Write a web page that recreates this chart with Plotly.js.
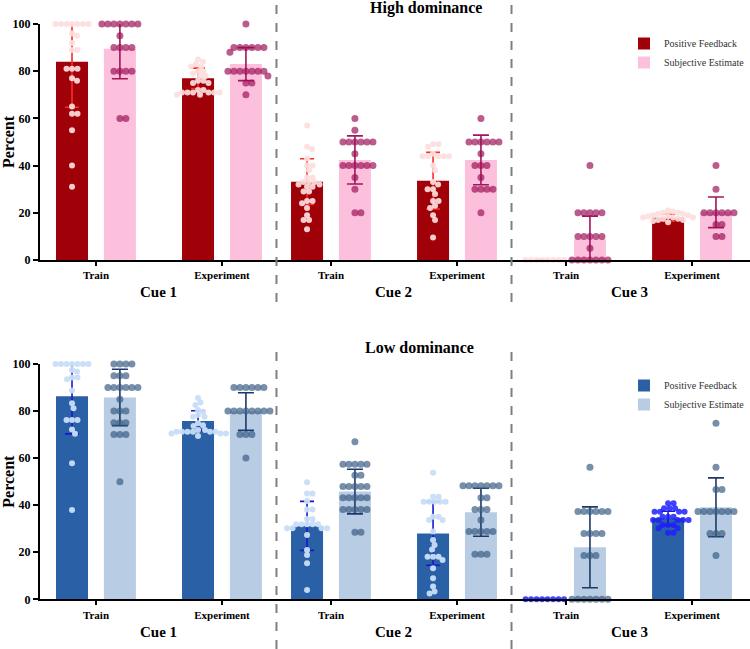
<!DOCTYPE html>
<html>
<head>
<meta charset="utf-8">
<script src="https://cdn.plot.ly/plotly-3.0.1.min.js"></script>
<style>html,body{margin:0;padding:0;background:#fff;}#chart{width:750px;height:649px;}</style>
</head>
<body>
<div id="chart"></div>
<script>
// ---------------- DATA ----------------
const cueLabels = ['Cue 1', 'Cue 2', 'Cue 3'];
const tickLabels = ['Train', 'Experiment', 'Train', 'Experiment', 'Train', 'Experiment'];
const seriesNames = ['Positive Feedback', 'Subjective Estimate'];
const panelTitles = ['High dominance', 'Low dominance'];

// High dominance: bar means and SD (order: C1 Train, C1 Exp, C2 Train, C2 Exp, C3 Train, C3 Exp)
const highPosMean = [84, 77, 33.2, 33.6, 0, 17.9];
const highPosSD   = [19.3, 4.3, 9.7, 12, 0, 1.5];
const highSubMean = [89.5, 83, 42.4, 42.4, 8.8, 20.2];
const highSubSD   = [12.7, 7, 10.2, 10.5, 9.8, 6.5];

const highPosPoints = [
  [100,100,100,100,100,100,100,96,95,92,89,89,81,81,81,77,76,65,62,62,55,40,31],
  [85,84,83,82,82,80,80,79,78,78,76,76,75,75,72,72,71,71,71,71,71,71,70,70],
  [57,48,47,43,40,40,38,35,35,33,33,33,32,32,31,31,29,29,25,25,24,22,19,17,17,13],
  [49,49,48,45,44,44,44,44,44,40,38,33,32,30,30,28,25,25,23,22,19,17,9.5],
  [0,0,0,0,0,0,0,0],
  [21,20.5,20,20,19.5,19.5,19,19,18.5,18.5,18,18,18,17.5,17.5,17,17,16.5,16]
];
const highSubPoints = [
  [100,100,100,100,100,100,100,95,90,90,90,90,80,80,80,80,60,60],
  [100,90,90,90,90,90,90,88,80,80,80,80,80,80,80,78,75,75,70],
  [60,55,50,50,50,50,50,50,45,40,40,40,40,40,40,35,30,20,20],
  [60,50,50,50,50,50,50,45,40,40,40,35,30,30,30,30,20],
  [40,20,20,20,20,20,10,10,10,10,10,5,0,0,0,0,0,0,0],
  [40,30,20,20,20,20,20,20,15,15,10,10]
];

// Low dominance
const lowPosMean = [86.3, 75.8, 31.2, 28, 0, 34.4];
const lowPosSD   = [16, 4.3, 10.4, 13.5, 0, 3];
const lowSubMean = [85.8, 79.8, 45.8, 37, 22.1, 39.1];
const lowSubSD   = [12, 8, 9.5, 10.2, 17.2, 12.5];

const lowPosPoints = [
  [100,100,100,100,100,100,100,97.5,96.7,94.3,94.3,93.5,88.7,83.3,81.2,76.2,76.2,76.2,72.2,70.4,57.8,38],
  [85.5,83.6,82.6,80.5,79.7,78.3,77.6,77.6,74.8,74,73.7,72,72,71.2,71.2,71.2,71.2,71.2,71.2,70.5,70.5,70.5,69.4],
  [49.7,45,45,41.8,38.2,38.2,34.1,34.1,31.9,31.9,31.9,31.9,31.9,30.2,30.2,30.2,30.2,27.3,21,18.8,15.3,4],
  [53.8,43.6,43.6,41.5,41.5,41.5,41.5,41.5,35.1,35.1,33.7,33.7,28.8,25.2,23.1,21.2,18.1,18.1,18.1,16.7,13.2,8.9,5.4,3.3,2.5],
  [0,0,0,0,0,0,0,0],
  [40.8,40.8,38.7,38.7,38.7,37.2,37.2,37.2,37.2,35.1,35.1,35.1,33.7,33.7,33.7,33.7,33.7,31.6,31.6,31.6,30.2,30.2,28.3,28.3]
];
const lowSubPoints = [
  [100,100,100,100,95,95,95,90,90,90,90,90,90,85,80,80,80,75,75,75,70,70,70,50],
  [90,90,90,90,90,90,80,80,80,80,80,80,80,80,70,70,70,60],
  [67,57.4,57.4,57.4,57.4,57.4,52.7,52.7,47.9,47.9,47.9,47.9,47.9,43.2,43.2,43.2,43.2,43.2,38.2,38.2,38.2,38.2,38.2,28.5,28.5],
  [48.3,48.3,48.3,48.3,48.3,48.3,48.3,43.2,43.2,38.2,38.2,38.2,33.7,28.8,28.8,28.8,28.8,28.8,19.1,19.1,19.1],
  [56.1,37.3,37.3,37.3,37.3,37.3,37.3,28,28,28,28,18.6,18.6,18.6,0,0,0,0,0,0,0],
  [74.8,56.1,46.7,46.7,37.3,37.3,37.3,37.3,37.3,37.3,37.3,28,28,28,18.6]
];

// ---------------- LAYOUT CONSTANTS ----------------
const W = 750, H = 649;
const cueStep = 1.865;            // distance between cue groups (x units)
const barOffset = 0.19;           // half distance between paired bars
const barWidth = 0.254;
const xRange = [-0.444, 5.19];
const plotLeft = 40;
const topDomainPx = [24, 260];    // y pixel of 100 and 0
const botDomainPx = [364, 599.3];
const PX_PER_X = (W - plotLeft) / (xRange[1] - xRange[0]);
const PX_PER_Y = (topDomainPx[1] - topDomainPx[0]) / 100;

const groupX = tickLabels.map((_, i) => Math.floor(i / 2) * cueStep + (i % 2));

function swarm(vals, center, diam) {
  const placed = [];
  const xs = [];
  const D = diam * 0.85;
  vals.forEach(v => {
    const yp = v * PX_PER_Y;
    let off = 0;
    for (let k = 0; k < 2000; k++) {
      const cand = (k % 2 === 1 ? 1 : -1) * Math.ceil(k / 2) * 0.5;
      let ok = true;
      for (const p of placed) {
        const dx = cand - p[0], dy = yp - p[1];
        if (dx * dx + dy * dy < D * D) { ok = false; break; }
      }
      if (ok) { off = cand; break; }
    }
    placed.push([off, yp]);
    xs.push(center + off / PX_PER_X);
  });
  return xs;
}

const FONT = 'Liberation Serif';

function panelTraces(pos, posSD, sub, subSD, posPts, subPts, ax, st, legendId) {
  const xa = 'x' + ax, ya = 'y' + ax;
  const traces = [];
  traces.push({
    type: 'bar', x: groupX.map(g => g - barOffset), y: pos, width: barWidth,
    name: seriesNames[0], xaxis: xa, yaxis: ya, legend: legendId,
    marker: {color: st.posBar, line: {width: 0}},
    error_y: {type: 'data', array: posSD, visible: true, color: st.posErr, thickness: 1.6, width: 7},
    hoverinfo: 'y'
  });
  traces.push({
    type: 'bar', x: groupX.map(g => g + barOffset), y: sub, width: barWidth,
    name: seriesNames[1], xaxis: xa, yaxis: ya, legend: legendId,
    marker: {color: st.subBar, line: {width: 0}},
    error_y: {type: 'data', array: subSD, visible: true, color: st.subErr, thickness: 1.6, width: 8},
    hoverinfo: 'y'
  });
  let px = [], py = [], pc = [];
  posPts.forEach((arr, i) => {
    px = px.concat(swarm(arr, groupX[i] - barOffset, st.posSize));
    py = py.concat(arr);
    pc = pc.concat(arr.map(() => st.posDot(i)));
  });
  traces.push({
    type: 'scatter', mode: 'markers', x: px, y: py, xaxis: xa, yaxis: ya,
    showlegend: false, cliponaxis: false,
    marker: {color: pc, size: st.posSize, line: {width: 0}}
  });
  let sx = [], sy = [];
  subPts.forEach((arr, i) => {
    sx = sx.concat(swarm(arr, groupX[i] + barOffset, st.subSize));
    sy = sy.concat(arr);
  });
  traces.push({
    type: 'scatter', mode: 'markers', x: sx, y: sy, xaxis: xa, yaxis: ya,
    showlegend: false, cliponaxis: false,
    marker: {color: st.subDot, size: st.subSize, line: {width: 0}}
  });
  return traces;
}

const highStyle = {
  posBar: '#a00008', subBar: '#fcc0dc', posErr: '#ff2a2a', subErr: '#a3155c',
  posDot: () => 'rgba(253,222,222,0.92)', subDot: 'rgba(155,15,85,0.68)', posSize: 6, subSize: 7
};
const lowStyle = {
  posBar: '#2a60a6', subBar: '#b8cce4', posErr: '#1818d0', subErr: '#1c3a68',
  posDot: i => (i >= 4 ? 'rgba(30,30,255,0.85)' : 'rgba(200,222,248,0.95)'),
  subDot: 'rgba(55,90,130,0.68)', posSize: 6, subSize: 7
};

const traces = [].concat(
  panelTraces(highPosMean, highPosSD, highSubMean, highSubSD, highPosPoints, highSubPoints, '', highStyle, 'legend'),
  panelTraces(lowPosMean, lowPosSD, lowSubMean, lowSubSD, lowPosPoints, lowSubPoints, '2', lowStyle, 'legend2')
);

function xaxisDef(anchor) {
  return {
    domain: [0, 1], range: xRange, anchor: anchor,
    showline: true, linewidth: 2, linecolor: '#000', mirror: false,
    tickmode: 'array', tickvals: groupX, ticktext: tickLabels,
    ticks: 'outside', ticklen: 4, tickwidth: 2, tickcolor: '#000',
    tickfont: {family: FONT, size: 11, color: '#000', weight: 'bold'},
    showgrid: false, zeroline: false, fixedrange: true, automargin: false
  };
}
function yaxisDef(domPx, anchor) {
  return {
    domain: [1 - domPx[1] / H, 1 - domPx[0] / H], range: [0, 100], anchor: anchor,
    showline: true, linewidth: 2, linecolor: '#000',
    tickmode: 'array', tickvals: [0, 20, 40, 60, 80, 100],
    ticks: 'outside', ticklen: 5, tickwidth: 2, tickcolor: '#000',
    tickfont: {family: FONT, size: 12, color: '#000', weight: 'bold'},
    title: {text: 'Percent', font: {family: FONT, size: 16, color: '#000', weight: 'bold'}, standoff: 1},
    showgrid: false, zeroline: false, fixedrange: true, automargin: false
  };
}

const annotations = [];
cueLabels.forEach((c, i) => {
  [[0.550, 'x'], [0.026, 'x2']].forEach(([yy, xr]) => {
    annotations.push({
      text: c, xref: xr, yref: 'paper', x: i * cueStep + 0.5, y: yy, showarrow: false,
      xanchor: 'center', yanchor: 'middle',
      font: {family: FONT, size: 15, color: '#000', weight: 'bold'}
    });
  });
});
annotations.push({
  text: panelTitles[0], xref: 'paper', yref: 'paper', x: 408 / W, y: 1 - 8 / H,
  showarrow: false, xanchor: 'center', yanchor: 'middle',
  font: {family: FONT, size: 16, color: '#000', weight: 'bold'}
});
annotations.push({
  text: panelTitles[1], xref: 'paper', yref: 'paper', x: 401 / W, y: 1 - 347 / H,
  showarrow: false, xanchor: 'center', yanchor: 'middle',
  font: {family: FONT, size: 16, color: '#000', weight: 'bold'}
});

const sepX = [(1 + cueStep) / 2, (1 + cueStep + 2 * cueStep) / 2];
const shapes = [];
sepX.forEach(sx => {
  shapes.push({type: 'line', xref: 'x', yref: 'paper', x0: sx, x1: sx, y0: 1 - 302 / H, y1: 1,
    line: {color: '#7f7f7f', width: 2, dash: 'dash'}, layer: 'above'});
  shapes.push({type: 'line', xref: 'x2', yref: 'paper', x0: sx, x1: sx, y0: 0, y1: 1 - 346 / H,
    line: {color: '#7f7f7f', width: 2, dash: 'dash'}, layer: 'above'});
});

const legendBase = {
  xanchor: 'right', yanchor: 'top', bgcolor: 'rgba(0,0,0,0)', borderwidth: 0,
  font: {family: FONT, size: 10, color: '#333'}, tracegroupgap: 0, itemwidth: 30
};

const layout = {
  width: W, height: H,
  margin: {l: plotLeft, r: 0, t: 0, b: 0, autoexpand: false},
  paper_bgcolor: '#fff', plot_bgcolor: 'rgba(0,0,0,0)',
  barmode: 'overlay',
  xaxis: xaxisDef('y'), yaxis: yaxisDef(topDomainPx, 'x'),
  xaxis2: xaxisDef('y2'), yaxis2: yaxisDef(botDomainPx, 'x2'),
  legend: Object.assign({x: 1, y: 1 - 29 / H}, legendBase),
  legend2: Object.assign({x: 1, y: 1 - 371 / H}, legendBase),
  annotations: annotations, shapes: shapes,
  showlegend: true
};

Plotly.newPlot('chart', traces, layout, {displayModeBar: false, staticPlot: true});
</script>
</body>
</html>
